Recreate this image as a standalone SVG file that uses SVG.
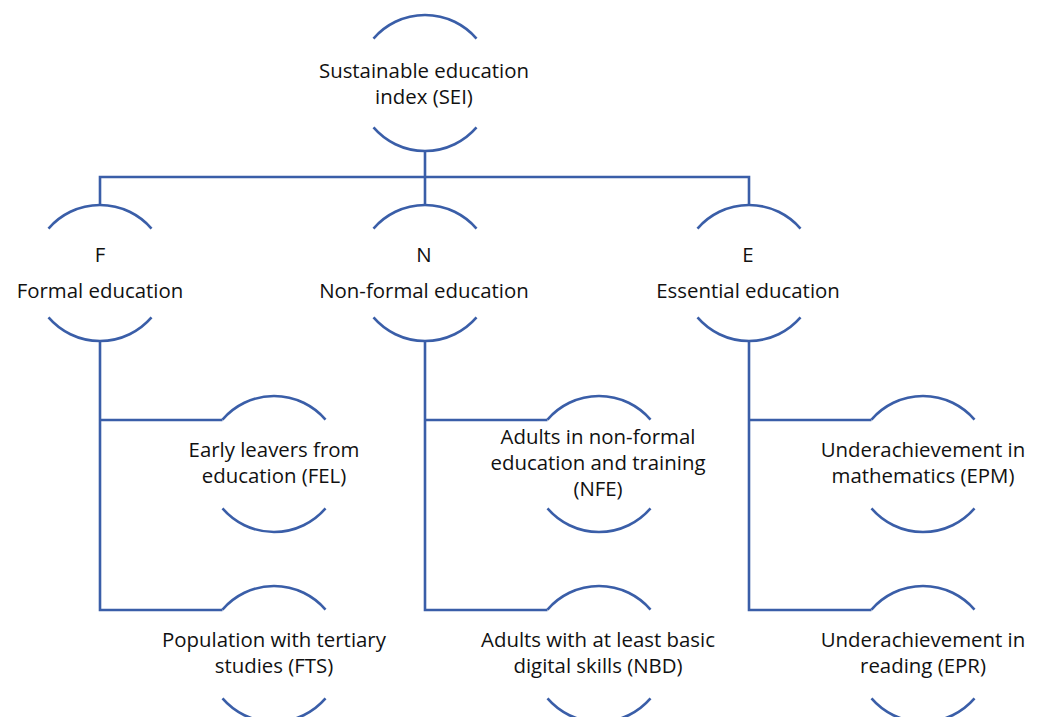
<svg xmlns="http://www.w3.org/2000/svg" width="1040" height="717" viewBox="0 0 1040 717">
<style>
.arc{fill:none;stroke:#3a5ea8;stroke-width:2.6;}
.ln{fill:none;stroke:#3a5ea8;stroke-width:2.6;}
text{font-family:"Open Sans","Liberation Sans",sans-serif;font-size:20.4px;fill:#111;text-anchor:middle;}
</style>
<rect width="1040" height="717" fill="#fff"/>
<g id="connectors">
<path class="ln" d="M425 151V177M100 205V177H749V205M425 177V205"/>
<path class="ln" d="M100 341V610H222.5M100 420H222.5"/>
<path class="ln" d="M425 341V610H547.5M425 420H547.5"/>
<path class="ln" d="M749 341V610H871.5M749 420H871.5"/>
</g>
<g id="SEI">
<path class="arc" d="M373.5 38.6A68 68 0 0 1 476.5 38.6M373.5 127.4A68 68 0 0 0 476.5 127.4"/>
<text x="424" y="78">Sustainable education</text>
<text x="424" y="104">index (SEI)</text>
</g>
<g id="F">
<path class="arc" d="M48.5 228.6A68 68 0 0 1 151.5 228.6M48.5 317.4A68 68 0 0 0 151.5 317.4"/>
<text x="100" y="262">F</text>
<text x="100" y="298">Formal education</text>
</g>
<g id="N">
<path class="arc" d="M373.5 228.6A68 68 0 0 1 476.5 228.6M373.5 317.4A68 68 0 0 0 476.5 317.4"/>
<text x="424" y="262">N</text>
<text x="424" y="298">Non-formal education</text>
</g>
<g id="E">
<path class="arc" d="M697.5 228.6A68 68 0 0 1 800.5 228.6M697.5 317.4A68 68 0 0 0 800.5 317.4"/>
<text x="748" y="262">E</text>
<text x="748" y="298">Essential education</text>
</g>
<g id="FEL">
<path class="arc" d="M222.5 419.6A68 68 0 0 1 325.5 419.6M222.5 508.4A68 68 0 0 0 325.5 508.4"/>
<text x="274" y="457">Early leavers from</text>
<text x="274" y="483">education (FEL)</text>
</g>
<g id="NFE">
<path class="arc" d="M547.5 419.6A68 68 0 0 1 650.5 419.6M547.5 508.4A68 68 0 0 0 650.5 508.4"/>
<text x="598" y="444">Adults in non-formal</text>
<text x="598" y="470">education and training</text>
<text x="598" y="496">(NFE)</text>
</g>
<g id="EPM">
<path class="arc" d="M871.5 419.6A68 68 0 0 1 974.5 419.6M871.5 508.4A68 68 0 0 0 974.5 508.4"/>
<text x="923" y="457">Underachievement in</text>
<text x="923" y="483">mathematics (EPM)</text>
</g>
<g id="FTS">
<path class="arc" d="M222.5 609.6A68 68 0 0 1 325.5 609.6M222.5 698.4A68 68 0 0 0 325.5 698.4"/>
<text x="274" y="647">Population with tertiary</text>
<text x="274" y="673">studies (FTS)</text>
</g>
<g id="NBD">
<path class="arc" d="M547.5 609.6A68 68 0 0 1 650.5 609.6M547.5 698.4A68 68 0 0 0 650.5 698.4"/>
<text x="598" y="647">Adults with at least basic</text>
<text x="598" y="673">digital skills (NBD)</text>
</g>
<g id="EPR">
<path class="arc" d="M871.5 609.6A68 68 0 0 1 974.5 609.6M871.5 698.4A68 68 0 0 0 974.5 698.4"/>
<text x="923" y="647">Underachievement in</text>
<text x="923" y="673">reading (EPR)</text>
</g>
</svg>
